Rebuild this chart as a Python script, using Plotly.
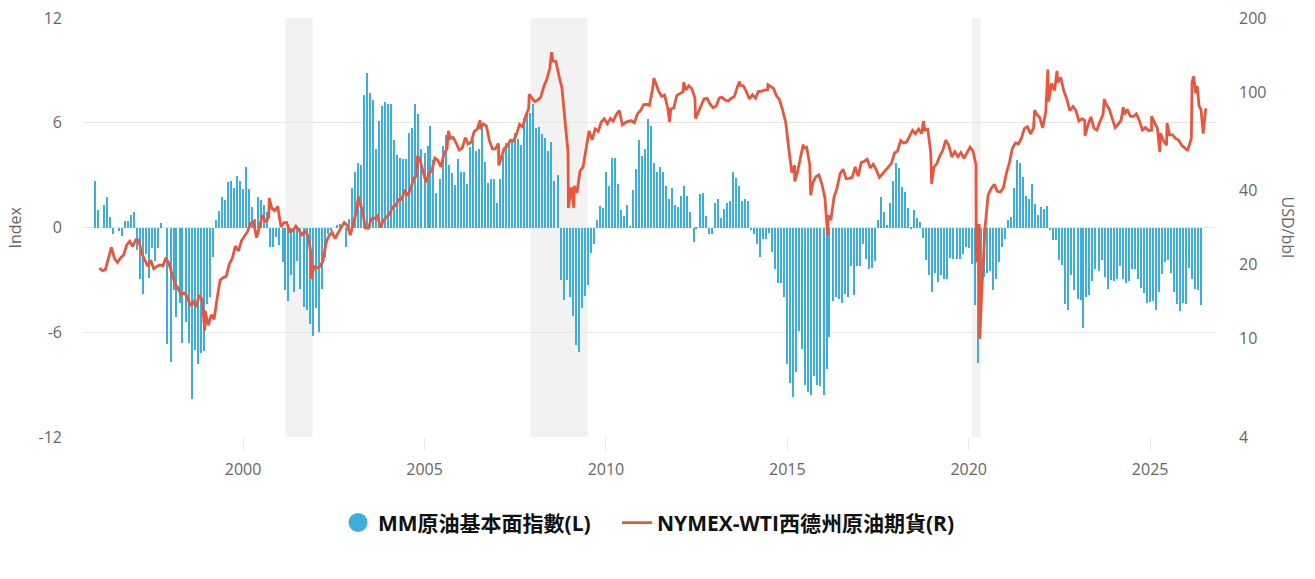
import math
import pandas as pd
import plotly.graph_objects as go

# ---------------- data ----------------
# MM crude-oil fundamental index, monthly, starting Dec 1995
index_start = "1995-12-01"
index_values = [
    2.66,
    1.03, 0, 1.28, 1.72, 0.59, -0.38, 0, -0.2, -0.5, 0.36, 0.36, 0.69,            # 1996
    0.88, -1.3, -2.93, -3.79, -1.5, -2.9, -1.2, -1.9, -1.2, 0.25, 0, -6.7,         # 1997
    -7.7, -3.6, -5.1, -4.3, -6.6, -5.4, -6.6, -9.8, -7.0, -7.8, -7.2, -7.1,        # 1998
    -4.4, -4.0, -1.7, 0.43, 0.94, 1.72, 1.58, 2.6, 2.66, 2.24, 2.96, 2.66,         # 1999
    2.18, 3.45, 2.18, 1.2, 0.5, 1.72, 1.58, 1.3, 0.9, -1.1, -1.1, -0.55,           # 2000
    -1.0, -2.0, -3.6, -4.2, -2.7, -3.7, -1.9, -3.5, -4.55, -4.75, -5.5, -6.2,      # 2001
    -4.6, -6.0, -3.5, -1.7, -0.35, -0.2, 0, 0.15, 0.2, 0, -1.1, 0.5,               # 2002
    2.24, 3.2, 3.67, 3.58, 7.6, 8.84, 7.73, 7.3, 4.48, 6.1, 6.96, 7.2,             # 2003
    7.08, 7.08, 5.0, 4.15, 4.0, 3.9, 3.9, 5.4, 5.7, 7.06, 6.5, 4.5,                # 2004
    4.25, 4.67, 5.8, 3.87, 1.95, 2.75, 4.67, 5.3, 3.58, 3.1, 2.43, 3.9,            # 2005
    3.2, 3.2, 2.49, 4.6, 5.0, 4.4, 4.5, 5.7, 3.77, 2.56, 2.75, 2.75,               # 2006
    1.43, 2.75, 4.1, 4.82, 4.73, 5.0, 5.4, 5.07, 4.73, 6.26, 6.5, 6.54,            # 2007
    7.1, 5.68, 5.74, 5.34, 5.15, 4.38, 4.88, 2.66, 3.0, -3.0, -4.13, -3.0,         # 2008
    -4.0, -5.07, -6.75, -7.14, -4.6, -3.94, -3.27, -1.44, -0.92, 0.42, 1.22, 1.09, # 2009
    3.16, 2.39, 3.96, 4.0, 2.49, 1.03, 0.67, 1.28, 0.08, 2.14, 3.35, 5.0,          # 2010
    4.1, 4.5, 6.2, 5.8, 3.67, 3.16, 3.44, 3.2, 2.39, 1.63, 2.24, 1.28,             # 2011
    1.19, 1.8, 2.39, 1.8, 0.86, -0.82, -0.06, 1.9, 2.0, 0.67, -0.4, -0.35,         # 2012
    1.43, 1.63, 0.52, 1.05, 1.38, 1.53, 3.16, 2.85, 2.39, 1.53, 1.63, 1.53,        # 2013
    -0.15, -0.4, -0.92, -1.68, -0.67, -0.67, -0.34, -1.43, -2.39, -3.16, -3.16, -4.0,  # 2014
    -7.8, -8.9, -9.7, -8.25, -5.9, -6.95, -9.0, -9.4, -9.6, -8.5, -9.0, -9.1,      # 2015
    -9.6, -8.1, -6.3, -4.2, -4.0, -4.1, -4.3, -3.8, -4.0, -2.2, -3.85, -2.2,       # 2016
    -2.2, -0.92, -1.82, -2.39, -2.3, -1.9, 0.42, 1.72, 0.86, 0.17, 1.43, 2.66,     # 2017
    3.67, 3.42, 2.3, 2.05, 1.1, -0.06, 1.03, 0.57, 0.33, -0.6, -1.87, -2.7,        # 2018
    -3.7, -2.58, -3.1, -2.7, -2.93, -2.93, -1.72, -1.78, -1.82, -1.82, -1.53, -1.1,  # 2019
    -1.15, -2.1, -4.46, -7.75, -5.0, -2.83, -2.58, -2.49, -3.6, -2.97, -2.0, -1.1, # 2020
    -0.67, 0.42, 0.61, 2.24, 3.87, 3.67, 2.9, 1.82, 1.63, 2.49, 1.34, 0.71,        # 2021
    1.19, 1.05, 1.24, -0.15, -0.73, -0.73, -1.88, -2.12, -4.36, -4.7, -2.74, -3.6, # 2022
    -4.1, -4.17, -5.75, -4.0, -3.85, -3.08, -2.39, -2.49, -1.88, -2.83, -3.5, -3.0,  # 2023
    -3.06, -2.93, -2.22, -2.93, -3.16, -3.08, -2.39, -2.39, -2.93, -3.44, -3.75, -4.3,  # 2024
    -4.27, -4.2, -4.7, -3.7, -2.64, -1.97, -1.88, -2.58, -3.7, -4.36, -4.8, -4.3,  # 2025
    -4.36, -2.3, -2.93, -3.54, -3.6, -4.46,                                         # 2026
]

# NYMEX WTI, monthly levels (USD/bbl), mid-month, starting Dec 1995
wti_start = "1995-12-15"
wti_monthly = [
    19.39,
    18.89, 19.09, 21.33, 23.50, 21.17, 20.42, 21.30, 21.90, 23.97, 24.88, 23.71, 25.23,
    25.13, 22.18, 20.97, 19.70, 20.82, 19.26, 19.66, 19.95, 19.80, 21.33, 20.19, 18.33,
    16.72, 16.06, 15.12, 15.35, 14.91, 13.72, 14.17, 13.47, 15.03, 14.46, 13.00, 11.35,
    12.52, 12.01, 14.68, 17.31, 17.72, 17.92, 20.10, 21.28, 23.80, 22.69, 25.00, 26.10,
    27.26, 29.37, 29.84, 25.72, 28.79, 31.82, 29.70, 31.26, 33.88, 33.11, 34.42, 28.44,
    29.59, 29.61, 27.24, 27.49, 28.63, 27.60, 26.43, 27.37, 26.20, 22.17, 19.64, 19.39,
    19.72, 20.72, 24.53, 26.18, 27.04, 25.52, 26.97, 28.39, 29.66, 28.84, 26.35, 29.46,
    32.95, 35.83, 33.51, 28.17, 28.11, 30.66, 30.76, 31.57, 28.31, 30.34, 31.11, 32.13,
    34.31, 34.69, 36.74, 36.75, 40.28, 38.03, 40.78, 44.90, 45.94, 53.28, 48.47, 43.15,
    46.84, 48.15, 54.19, 52.98, 49.83, 56.35, 59.00, 64.99, 65.59, 62.26, 58.32, 59.41,
    65.49, 61.63, 62.69, 69.44, 70.84, 70.95, 74.41, 73.04, 63.80, 58.89, 59.08, 61.96,
    54.51, 59.28, 60.44, 63.98, 63.46, 67.49, 74.12, 72.36, 79.92, 85.80, 94.77, 91.69,
    92.97, 95.39, 105.45, 112.58, 125.40, 133.88, 133.37, 116.67, 104.11, 76.61, 57.31, 41.12,
    41.71, 39.09, 47.94, 49.65, 59.03, 69.64, 64.15, 71.05, 69.41, 75.72, 77.99, 74.47,
    78.33, 76.39, 81.20, 84.29, 73.74, 75.34, 76.32, 76.60, 75.24, 81.89, 84.25, 89.15,
    89.17, 88.58, 102.86, 109.53, 100.90, 96.26, 97.30, 86.33, 85.52, 86.32, 97.16, 98.56,
    100.27, 102.20, 106.16, 103.32, 94.66, 82.30, 87.90, 94.13, 94.51, 89.49, 86.53, 87.86,
    94.76, 95.31, 92.94, 92.02, 94.51, 95.77, 104.67, 106.57, 106.29, 100.54, 93.86, 97.63,
    94.62, 100.82, 100.80, 102.07, 102.18, 105.79, 103.59, 96.54, 93.21, 84.40, 75.79, 59.29,
    47.22, 50.58, 47.82, 54.45, 59.27, 59.82, 50.90, 42.87, 45.48, 46.22, 42.44, 37.19,
    31.68, 30.32, 37.55, 40.75, 46.71, 48.76, 44.65, 44.72, 45.18, 49.78, 45.66, 51.97,
    52.50, 53.47, 49.33, 51.06, 48.48, 45.18, 46.63, 48.04, 49.82, 51.58, 56.64, 57.88,
    63.70, 62.23, 62.73, 66.25, 69.98, 67.87, 70.98, 68.06, 70.23, 70.75, 56.96, 49.52,
    51.38, 54.95, 58.15, 63.86, 60.83, 54.66, 57.35, 54.81, 56.95, 53.96, 57.03, 59.88,
    57.52, 50.54, 29.21, 16.55, 28.56, 38.31, 40.71, 42.34, 39.63, 39.40, 40.94, 47.02,
    52.00, 59.04, 62.33, 61.72, 65.17, 71.38, 72.49, 67.73, 71.65, 81.48, 79.15, 71.71,
    83.22, 91.64, 108.50, 101.78, 109.55, 114.84, 101.62, 93.67, 84.26, 87.55, 84.37, 76.44,
    78.12, 76.83, 73.28, 79.45, 71.58, 70.25, 76.07, 81.39, 89.43, 85.64, 77.69, 71.90,
    74.15, 77.25, 81.28, 85.35, 80.02, 79.77, 81.80, 76.68, 70.24, 71.99, 69.95, 70.12,
    75.10, 71.53, 68.24, 63.54, 61.03, 67.33, 67.22, 64.86, 63.96, 60.89, 59.50, 57.90,
]

# individual daily readings (extremes and the 2026 path)
wti_extra_dates = [
    "1998-12-10", "2000-09-20", "2001-11-15", "2003-03-07", "2004-10-22",
    "2005-08-30", "2006-07-14", "2007-01-18", "2007-11-20", "2008-07-03",
    "2008-12-19", "2009-02-12", "2011-04-29", "2011-10-04", "2012-02-24",
    "2012-06-21", "2013-09-06", "2014-06-20", "2015-03-17", "2015-06-10",
    "2015-08-24", "2016-02-11", "2018-10-03", "2018-12-24", "2020-03-18",
    "2020-04-21", "2020-04-28", "2021-10-26", "2022-03-08", "2022-06-08",
    "2023-03-17", "2023-09-27", "2024-04-05", "2025-01-15", "2025-04-08",
    "2025-06-20",
    "2026-01-15", "2026-02-10", "2026-02-20", "2026-02-27", "2026-03-15",
    "2026-04-06", "2026-04-20", "2026-05-08", "2026-05-28", "2026-06-19",
    "2026-07-15",
]
wti_extra_values = [
    10.8, 37.2, 17.5, 37.8, 55.2,
    69.8, 77.0, 50.5, 98.0, 145.3,
    33.9, 34.0, 113.9, 75.7, 109.8,
    78.2, 110.5, 107.3, 43.5, 61.4,
    38.2, 26.2, 76.4, 42.5, 20.4,
    10.0, 12.3, 84.6, 123.7, 122.1,
    66.7, 93.7, 86.9, 80.0, 57.2,
    75.0,
    58.5, 63.0, 65.0, 110.0, 116.0,
    99.0, 106.0, 88.0, 85.0, 68.0,
    86.0,
]

recession_starts = ["2001-03-01", "2007-12-01", "2020-02-01"]
recession_ends = ["2001-11-30", "2009-06-30", "2020-04-30"]

left_ticks = [-12, -6, 0, 6, 12]
left_tick_text = ["-12", "-6", "0", "6", "12"]
right_ticks = [4, 10, 20, 40, 100, 200]
right_tick_text = ["4", "10", "20", "40", "100", "200"]

name_index = "MM原油基本面指數(L)"
name_wti = "NYMEX-WTI西德州原油期貨(R)"

# ---------------- build ----------------
BLUE = "#3DADDB"
RED = "#E8573C"
GRID = "#E6E6E6"
TICK = "#666666"

index_dates = pd.date_range(index_start, periods=len(index_values), freq="MS")
wti_dates_m = pd.date_range(wti_start, periods=len(wti_monthly), freq="MS") + pd.Timedelta(days=14)
wti = pd.concat([
    pd.Series(wti_monthly, index=wti_dates_m),
    pd.Series(wti_extra_values, index=pd.to_datetime(wti_extra_dates)),
]).sort_index()

fig = go.Figure()

# legend proxy (circle symbol as in the original legend)
fig.add_trace(go.Scatter(
    x=[None], y=[None], mode="markers", name=name_index, legend="legend",
    marker=dict(color=BLUE, size=16, symbol="circle", line=dict(color=BLUE, width=3)),
    showlegend=True, hoverinfo="skip",
))
fig.add_trace(go.Bar(
    x=index_dates, y=index_values, name=name_index,
    marker=dict(color=BLUE, line=dict(width=0)),
    width=11 * 24 * 3600 * 1000, showlegend=False, yaxis="y",
))
fig.add_trace(go.Scatter(
    x=wti.index, y=wti.values, name=name_wti, mode="lines", legend="legend2",
    line=dict(color=RED, width=2.8), yaxis="y2",
))

for s, e in zip(recession_starts, recession_ends):
    fig.add_shape(type="rect", xref="x", yref="paper", x0=s, x1=e, y0=0, y1=1,
                  fillcolor="#F2F2F2", line=dict(width=0), layer="below")

tickfont = dict(family="Open Sans, DejaVu Sans, sans-serif", size=16, color=TICK)
legend_font = dict(family="Open Sans, Noto Sans CJK TC, sans-serif", size=21,
                   color="#111111", weight="bold")

PLOT_L, PLOT_R = 84, 1216
def px_to_paper(px):
    return (px - PLOT_L) / (PLOT_R - PLOT_L)

fig.update_layout(
    width=1315, height=579,
    margin=dict(l=84, r=99, t=18, b=142, autoexpand=False),
    paper_bgcolor="white", plot_bgcolor="rgba(0,0,0,0)",
    bargap=0,
    showlegend=True,
    legend=dict(
        orientation="h", x=px_to_paper(338), xanchor="left", y=-0.205, yanchor="middle",
        font=legend_font, itemsizing="trace", bgcolor="rgba(0,0,0,0)",
    ),
    legend2=dict(
        orientation="h", x=px_to_paper(617), xanchor="left", y=-0.205, yanchor="middle",
        font=legend_font, itemsizing="trace", bgcolor="rgba(0,0,0,0)",
    ),
    xaxis=dict(
        type="date", range=["1995-08-13", "2026-10-26"],
        tick0="2000-01-01", dtick="M60", tickformat="%Y",
        showgrid=False, zeroline=False, showline=False,
        ticks="outside", ticklen=12, tickcolor=GRID, tickwidth=1,
        ticklabelstandoff=6,
        tickfont=tickfont,
    ),
    yaxis=dict(
        range=[-12, 12], tickvals=left_ticks, ticktext=left_tick_text,
        showgrid=True, gridcolor=GRID, gridwidth=1,
        zeroline=True, zerolinecolor=GRID, zerolinewidth=1,
        showline=False, ticks="", ticklabelstandoff=21,
        tickfont=tickfont,
    ),
    yaxis2=dict(
        type="log", overlaying="y", side="right",
        range=[math.log10(4), math.log10(200)],
        tickvals=right_ticks, ticktext=right_tick_text,
        showgrid=False, zeroline=False, showline=False,
        ticks="", ticklabelstandoff=22,
        tickfont=tickfont,
    ),
    annotations=[
        dict(text="Index", xref="paper", yref="paper", x=0, y=0.5,
             xshift=-70, xanchor="center", yanchor="middle", textangle=-90,
             showarrow=False, font=dict(family="Open Sans, sans-serif", size=16, color=TICK)),
        dict(text="USD/bbl", xref="paper", yref="paper", x=1, y=0.5,
             xshift=72, xanchor="center", yanchor="middle", textangle=90,
             showarrow=False, font=dict(family="Open Sans, sans-serif", size=16, color=TICK)),
    ],
)

fig.write_html(
    "out.html",
    config={"displayModeBar": False},
    post_script="document.body.style.margin='0px';document.body.style.overflow='hidden';",
)
